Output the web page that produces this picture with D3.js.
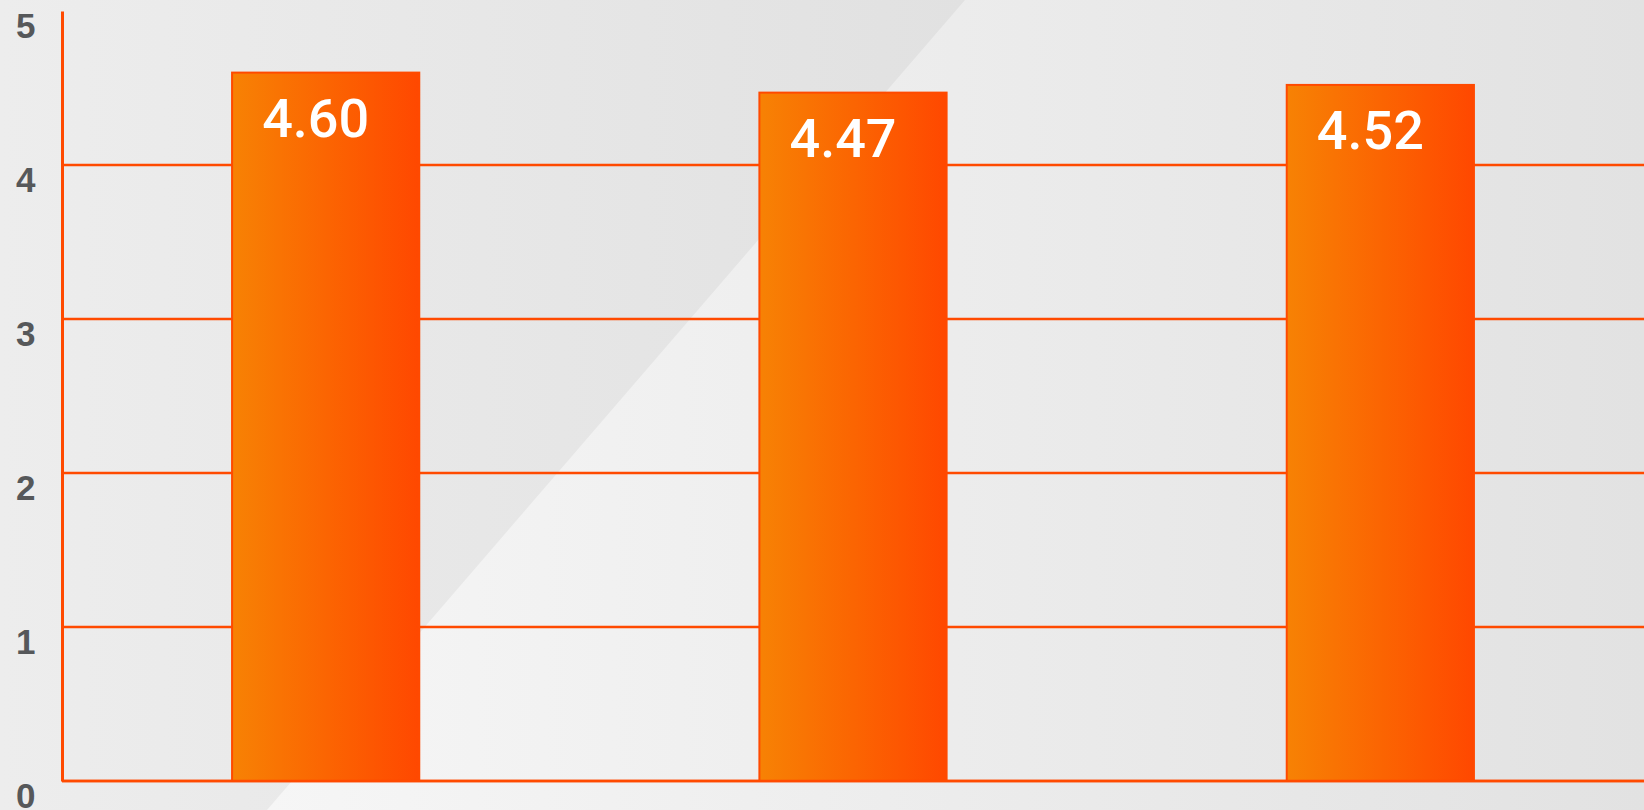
<!DOCTYPE html>
<html>
<head>
<meta charset="utf-8">
<script src="https://cdn.jsdelivr.net/npm/d3@7"></script>
<style>
  html, body { margin: 0; padding: 0; background: #ebebeb; }
  svg { display: block; }
</style>
</head>
<body>
<svg id="chart" width="1644" height="810"></svg>
<script>
// ---- data ----
const categories = ["A", "B", "C"];
const values = [4.60, 4.47, 4.52];
const valueLabels = ["4.60", "4.47", "4.52"];
const yTicks = [0, 1, 2, 3, 4, 5];
const yTickLabels = ["0", "1", "2", "3", "4", "5"];

const W = 1644, H = 810;
const margin = { top: 11, right: 0, bottom: 29, left: 62 };
const accent = "#ff4a00";

const svg = d3.select("#chart");
const defs = svg.append("defs");

// background gradients
const bgGrad = defs.append("linearGradient").attr("id", "bgGrad")
  .attr("gradientUnits", "userSpaceOnUse").attr("x1", 267).attr("x2", W).attr("y1", 0).attr("y2", 0);
bgGrad.append("stop").attr("offset", 0).attr("stop-color", "#f6f6f6");
bgGrad.append("stop").attr("offset", 1).attr("stop-color", "#e2e2e2");

const darkGrad = defs.append("linearGradient").attr("id", "darkGrad")
  .attr("gradientUnits", "userSpaceOnUse").attr("x1", 0).attr("x2", 965).attr("y1", 0).attr("y2", 0);
darkGrad.append("stop").attr("offset", 0).attr("stop-color", "#ededed");
darkGrad.append("stop").attr("offset", 1).attr("stop-color", "#e1e1e1");

const barGrad = defs.append("linearGradient").attr("id", "barGrad")
  .attr("x1", "0%").attr("x2", "100%").attr("y1", "0%").attr("y2", "0%");
barGrad.append("stop").attr("offset", 0).attr("stop-color", "#f78204");
barGrad.append("stop").attr("offset", 1).attr("stop-color", "#ff4800");

svg.append("rect").attr("width", W).attr("height", H).attr("fill", "url(#bgGrad)");
svg.append("polygon")
  .attr("points", [[0, 0], [965, 0], [267, H], [0, H]].map(p => p.join(",")).join(" "))
  .attr("fill", "url(#darkGrad)");

// scales
const x = d3.scaleBand().domain(categories)
  .range([margin.left, W - margin.right])
  .paddingInner(0.645).paddingOuter(0.3225);
const y = d3.scaleLinear().domain([0, 5]).range([H - margin.bottom, margin.top]);

// gridlines (0..4)
svg.append("g").selectAll("line")
  .data(yTicks.filter(t => t < 5))
  .join("line")
  .attr("x1", margin.left).attr("x2", W)
  .attr("y1", d => y(d)).attr("y2", d => y(d))
  .attr("stroke", accent).attr("stroke-width", 2.4);

// bars
const data = categories.map((c, i) => ({ c, v: values[i], label: valueLabels[i] }));
svg.append("g").selectAll("rect")
  .data(data)
  .join("rect")
  .attr("x", d => x(d.c))
  .attr("y", d => y(d.v))
  .attr("width", x.bandwidth())
  .attr("height", d => y(0) - y(d.v))
  .attr("fill", "url(#barGrad)")
  .attr("stroke", accent)
  .attr("stroke-width", 2);

// baseline over bars
svg.append("line")
  .attr("x1", margin.left).attr("x2", W)
  .attr("y1", y(0)).attr("y2", y(0))
  .attr("stroke", accent).attr("stroke-width", 2.6);

// value labels
svg.append("g").selectAll("text")
  .data(data)
  .join("text")
  .attr("x", d => x(d.c) + x.bandwidth() / 2 - 10)
  .attr("y", d => y(d.v) + 64)
  .attr("text-anchor", "middle")
  .attr("fill", "#ffffff")
  .attr("font-family", "Roboto, 'Liberation Sans', Arial, sans-serif")
  .attr("font-weight", 500)
  .attr("font-size", 54)
  .text(d => d.label);

// y axis
const yAxis = d3.axisLeft(y).tickValues(yTicks).tickFormat((d, i) => yTickLabels[i]).tickSize(0).tickPadding(0);
const ga = svg.append("g").attr("transform", `translate(${margin.left},0)`).call(yAxis);
ga.select(".domain").attr("stroke", accent).attr("stroke-width", 3);
ga.selectAll(".tick text")
  .attr("x", -46)
  .attr("dy", null)
  .attr("y", 1)
  .attr("text-anchor", "start")
  .attr("dominant-baseline", "hanging")
  .attr("fill", "#56585a")
  .attr("font-family", "'Liberation Sans', Arial, sans-serif")
  .attr("font-weight", "bold")
  .attr("font-size", 35);
</script>
</body>
</html>
